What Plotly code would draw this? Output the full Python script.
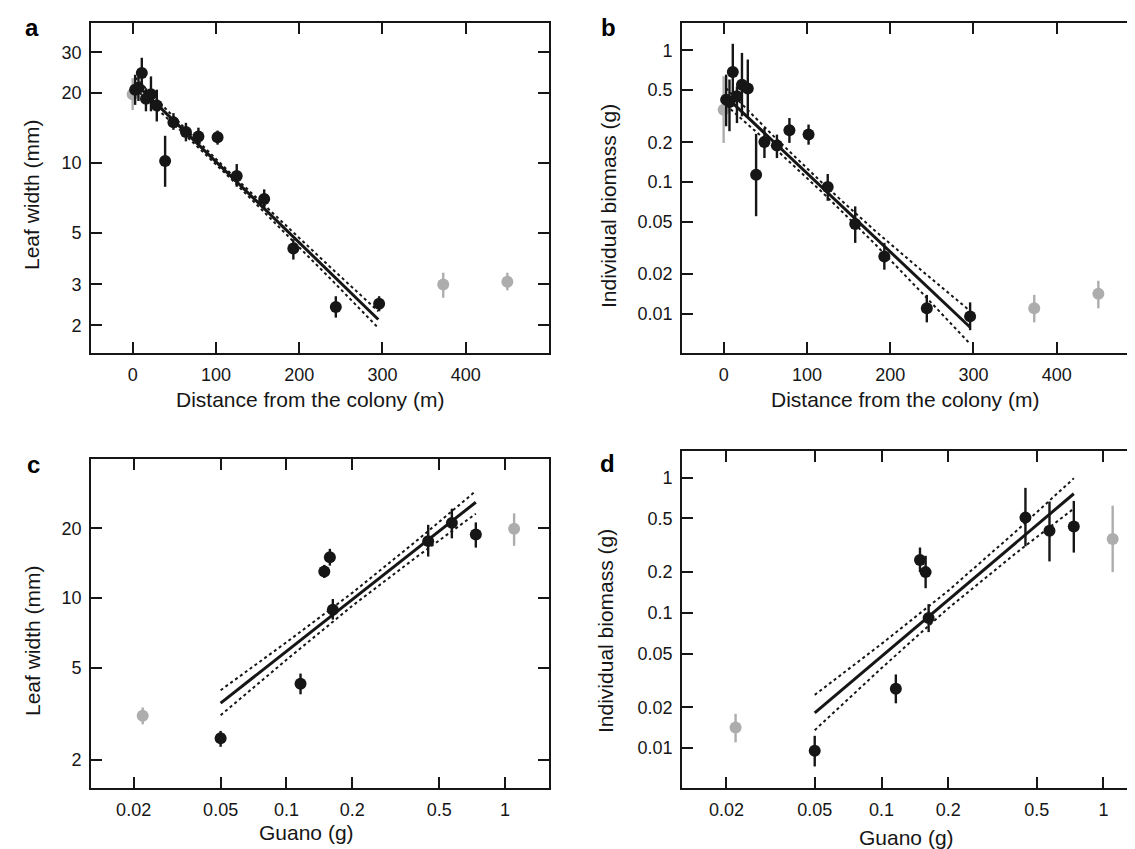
import plotly.graph_objects as go

# ---------------- data ----------------
# Panels a/b: distance from the colony (m)
dist_black = [3, 7, 11, 16, 22, 29, 39, 49, 64, 79, 102, 125, 158, 193, 244, 296]
dist_gray = [0, 373, 450]

leaf_a = [20.7, 21.1, 24.4, 18.9, 19.8, 17.7, 10.2, 15.0, 13.6, 13.0, 12.9, 8.8, 7.0, 4.29, 2.40, 2.48]
leaf_a_hi = [24.0, 23.5, 28.4, 21.0, 23.6, 20.7, 13.1, 16.4, 14.9, 14.2, 13.8, 9.9, 7.7, 4.7, 2.67, 2.67]
leaf_a_lo = [17.8, 18.5, 21.6, 16.7, 16.7, 15.1, 7.9, 13.9, 12.4, 12.1, 12.0, 7.9, 6.4, 3.84, 2.16, 2.30]
leaf_a_gray = [19.8, 3.0, 3.08]
leaf_a_gray_hi = [23.2, 3.37, 3.37]
leaf_a_gray_lo = [16.9, 2.63, 2.83]

bio_b = [0.422, 0.405, 0.685, 0.447, 0.548, 0.512, 0.1137, 0.201, 0.189, 0.247, 0.229, 0.0916, 0.048, 0.0272, 0.0110, 0.00955]
bio_b_hi = [0.653, 0.60, 1.12, 0.53, 0.955, 0.85, 0.232, 0.257, 0.229, 0.306, 0.273, 0.115, 0.0653, 0.0345, 0.0139, 0.0122]
bio_b_lo = [0.265, 0.243, 0.474, 0.28, 0.315, 0.306, 0.055, 0.152, 0.152, 0.198, 0.192, 0.072, 0.0345, 0.0216, 0.0086, 0.0075]
bio_b_gray = [0.354, 0.0110, 0.0142]
bio_b_gray_hi = [0.635, 0.0139, 0.0178]
bio_b_gray_lo = [0.198, 0.0086, 0.011]

# Panels c/d: guano (g)
guano_black = [0.05, 0.116, 0.149, 0.158, 0.163, 0.445, 0.571, 0.735]
guano_gray = [0.022, 1.10]

leaf_c = [2.48, 4.27, 13.0, 15.0, 8.9, 17.6, 21.1, 18.8]
leaf_c_hi = [2.67, 4.72, 13.9, 16.3, 9.9, 20.7, 24.3, 21.2]
leaf_c_lo = [2.28, 3.84, 12.2, 13.8, 8.07, 15.1, 18.1, 16.5]
leaf_c_gray = [3.10, 19.9]
leaf_c_gray_hi = [3.37, 23.2]
leaf_c_gray_lo = [2.85, 16.8]

bio_d = [0.00955, 0.0274, 0.246, 0.20, 0.0914, 0.506, 0.404, 0.435]
bio_d_hi = [0.0123, 0.035, 0.304, 0.264, 0.116, 0.84, 0.665, 0.673]
bio_d_lo = [0.0073, 0.0214, 0.20, 0.152, 0.072, 0.31, 0.24, 0.279]
bio_d_gray = [0.0142, 0.352]
bio_d_gray_hi = [0.0179, 0.62]
bio_d_gray_lo = [0.011, 0.20]

# fitted regression lines and 95% CI
fit_a_x = [3, 295]
fit_a_y = [22.1, 2.12]
ci_a_x = [3, 60, 120, 180, 240, 295]
ci_a_hi = [23.36, 14.44, 8.86, 5.54, 3.49, 2.30]
ci_a_lo = [20.91, 13.54, 8.42, 5.14, 3.11, 1.95]

fit_b_x = [3, 296]
fit_b_y = [0.443, 0.0079]
ci_b_x = [3, 60, 120, 180, 240, 296]
ci_b_hi = [0.515, 0.223, 0.0962, 0.0436, 0.0207, 0.0105]
ci_b_lo = [0.382, 0.1838, 0.0818, 0.0347, 0.0140, 0.0059]

fit_c_x = [0.05, 0.735]
fit_c_y = [3.52, 25.9]
ci_c_x = [0.05, 0.1, 0.2, 0.4, 0.735]
ci_c_hi = [4.00, 6.44, 10.52, 17.87, 28.96]
ci_c_lo = [3.12, 5.41, 9.25, 15.21, 23.11]

fit_d_x = [0.05, 0.735]
fit_d_y = [0.0182, 0.76]
ci_d_x = [0.05, 0.1, 0.2, 0.4, 0.735]
ci_d_hi = [0.0247, 0.0589, 0.1459, 0.3957, 0.988]
ci_d_lo = [0.01355, 0.0390, 0.1081, 0.2737, 0.59]

# tick labels
dist_ticks = [0, 100, 200, 300, 400]
dist_ticktext = ["0", "100", "200", "300", "400"]
guano_ticks = [0.02, 0.05, 0.1, 0.2, 0.5, 1]
guano_ticktext = ["0.02", "0.05", "0.1", "0.2", "0.5", "1"]
leaf_ticks_a = [2, 3, 5, 10, 20, 30]
leaf_ticktext_a = ["2", "3", "5", "10", "20", "30"]
leaf_ticks_c = [2, 5, 10, 20]
leaf_ticktext_c = ["2", "5", "10", "20"]
bio_ticks = [0.01, 0.02, 0.05, 0.1, 0.2, 0.5, 1]
bio_ticktext = ["0.01", "0.02", "0.05", "0.1", "0.2", "0.5", "1"]

# ---------------- styling ----------------
W, H = 1135, 849
BLACK = "#161616"
GRAY = "#adadad"
FONT = "Liberation Sans, Arial, Helvetica, sans-serif"


def xd(l, r):
    return [l / W, min(r / W, 1.0)]


def yd(t, b):
    return [1 - b / H, 1 - t / H]


def diff(hi, v):
    return [h - x for h, x in zip(hi, v)]


fig = go.Figure()


def add_panel(k, fx, fy, cx, chi, clo, xg, yg, ghi, glo, xb, yb, bhi, blo):
    xa, ya = "x" + k, "y" + k
    for c in (chi, clo):
        fig.add_trace(go.Scatter(x=cx, y=c, mode="lines", xaxis=xa, yaxis=ya,
                                 line=dict(color=BLACK, width=2, dash="3px,3px"),
                                 hoverinfo="skip", showlegend=False))
    fig.add_trace(go.Scatter(x=fx, y=fy, mode="lines", xaxis=xa, yaxis=ya,
                             line=dict(color=BLACK, width=3),
                             hoverinfo="skip", showlegend=False))
    fig.add_trace(go.Scatter(x=xg, y=yg, mode="markers", xaxis=xa, yaxis=ya,
                             marker=dict(color=GRAY, size=12),
                             error_y=dict(type="data", symmetric=False,
                                          array=diff(ghi, yg), arrayminus=diff(yg, glo),
                                          color=GRAY, thickness=2.4, width=0),
                             showlegend=False))
    fig.add_trace(go.Scatter(x=xb, y=yb, mode="markers", xaxis=xa, yaxis=ya,
                             marker=dict(color=BLACK, size=12),
                             error_y=dict(type="data", symmetric=False,
                                          array=diff(bhi, yb), arrayminus=diff(yb, blo),
                                          color=BLACK, thickness=2.4, width=0),
                             showlegend=False))


add_panel("", fit_a_x, fit_a_y, ci_a_x, ci_a_hi, ci_a_lo,
          dist_gray, leaf_a_gray, leaf_a_gray_hi, leaf_a_gray_lo,
          dist_black, leaf_a, leaf_a_hi, leaf_a_lo)
add_panel("2", fit_b_x, fit_b_y, ci_b_x, ci_b_hi, ci_b_lo,
          dist_gray, bio_b_gray, bio_b_gray_hi, bio_b_gray_lo,
          dist_black, bio_b, bio_b_hi, bio_b_lo)
add_panel("3", fit_c_x, fit_c_y, ci_c_x, ci_c_hi, ci_c_lo,
          guano_gray, leaf_c_gray, leaf_c_gray_hi, leaf_c_gray_lo,
          guano_black, leaf_c, leaf_c_hi, leaf_c_lo)
add_panel("4", fit_d_x, fit_d_y, ci_d_x, ci_d_hi, ci_d_lo,
          guano_gray, bio_d_gray, bio_d_gray_hi, bio_d_gray_lo,
          guano_black, bio_d, bio_d_hi, bio_d_lo)
# empty trace so the right-hand tick axis of panel d is drawn
fig.add_trace(go.Scatter(x=[], y=[], xaxis="x4", yaxis="y5", showlegend=False, hoverinfo="skip"))

common = dict(showline=True, linewidth=1.6, linecolor=BLACK, mirror="ticks",
              ticks="inside", ticklen=11, tickwidth=1.5, tickcolor=BLACK,
              showgrid=False, zeroline=False, fixedrange=True,
              tickfont=dict(family=FONT, size=18, color=BLACK))
xcommon = dict(common, ticklabelstandoff=5)
ycommon = dict(common, ticklabelstandoff=4)

# panel boxes in px: (left, right, top, bottom)
box_a = (83, 541, 15, 345)
box_b = (674, 1132, 15, 345)
box_c = (83, 541, 451, 780)
box_d = (674, 1135, 443, 780)

fig.update_layout(
    width=W, height=H, margin=dict(l=0, r=0, t=0, b=0),
    paper_bgcolor="white", plot_bgcolor="white",
    xaxis=dict(xcommon, domain=xd(box_a[0], box_a[1]), anchor="y", range=[-50, 500],
               tickvals=dist_ticks, ticktext=dist_ticktext),
    yaxis=dict(ycommon, domain=yd(box_a[2], box_a[3]), anchor="x", type="log",
               range=[0.182, 1.603], tickvals=leaf_ticks_a, ticktext=leaf_ticktext_a),
    xaxis2=dict(xcommon, domain=xd(box_b[0], box_b[1]), anchor="y2", range=[-50, 500],
                tickvals=dist_ticks, ticktext=dist_ticktext),
    yaxis2=dict(ycommon, domain=yd(box_b[2], box_b[3]), anchor="x2", type="log",
                range=[-2.298, 0.207], tickvals=bio_ticks, ticktext=bio_ticktext),
    xaxis3=dict(xcommon, domain=xd(box_c[0], box_c[1]), anchor="y3", type="log",
                range=[-1.894, 0.201], tickvals=guano_ticks, ticktext=guano_ticktext),
    yaxis3=dict(ycommon, domain=yd(box_c[2], box_c[3]), anchor="x3", type="log",
                range=[0.180, 1.600], tickvals=leaf_ticks_c, ticktext=leaf_ticktext_c),
    xaxis4=dict(xcommon, domain=xd(box_d[0], box_d[1]), anchor="y4", type="log",
                range=[-1.899, 0.178], tickvals=guano_ticks, ticktext=guano_ticktext),
    yaxis4=dict(ycommon, mirror=False, domain=yd(box_d[2], box_d[3]), anchor="x4", type="log",
                range=[-2.296, 0.197], tickvals=bio_ticks, ticktext=bio_ticktext),
    yaxis5=dict(overlaying="y4", side="right", anchor="x4", type="log",
                range=[-2.296, 0.197], tickvals=bio_ticks, showticklabels=False,
                showline=False, showgrid=False, zeroline=False, ticks="inside",
                ticklen=4, tickwidth=1.5, tickcolor=BLACK, fixedrange=True),
)

TITLE = dict(family=FONT, size=21, color=BLACK)


def ann(text, px, py, angle=0, font=TITLE):
    fig.add_annotation(text=text, x=px / W, y=1 - py / H, xref="paper", yref="paper",
                       showarrow=False, textangle=angle, font=font,
                       xanchor="center", yanchor="middle")


ann("Distance from the colony (m)", 302, 392)
ann("Distance from the colony (m)", 897, 392)
ann("Guano (g)", 298, 824)
ann("Guano (g)", 898, 829)
ann("Leaf width (mm)", 23, 187, -90)
ann("Individual biomass (g)", 600, 198, -90)
ann("Leaf width (mm)", 24, 633, -90)
ann("Individual biomass (g)", 597, 623, -90)

LABEL = dict(family=FONT, size=24, color="#000000")
for lab, px, py in [("<b>a</b>", 24, 19), ("<b>b</b>", 600, 19), ("<b>c</b>", 25, 456), ("<b>d</b>", 599, 455)]:
    ann(lab, px, py, 0, LABEL)

fig.write_html("out.html")
